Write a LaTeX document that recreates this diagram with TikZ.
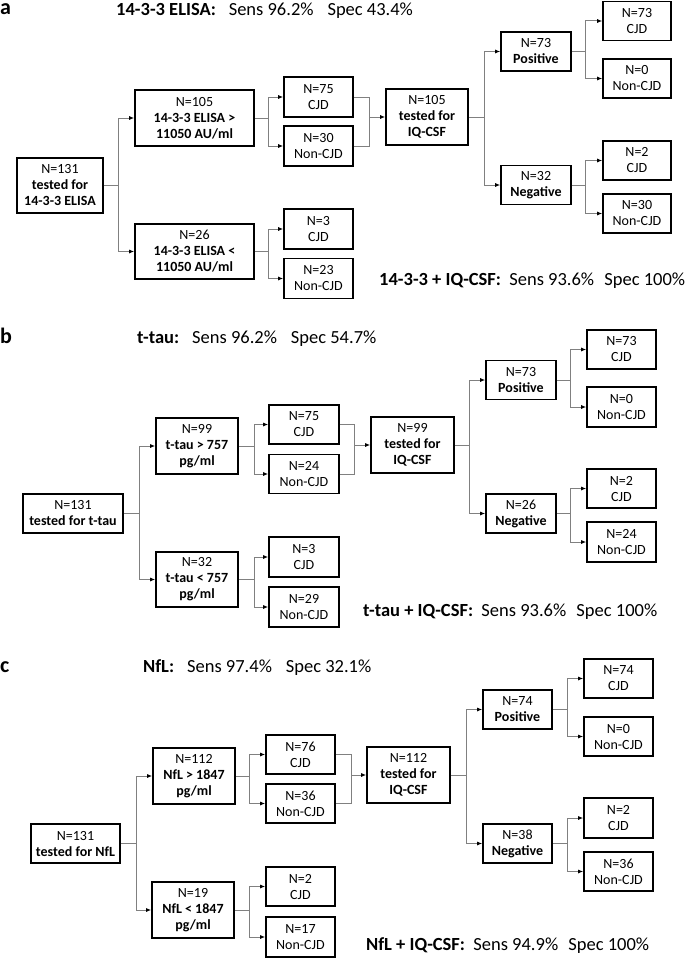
\documentclass[tikz,border=0pt]{standalone}
\usepackage{fontspec}
\setmainfont{Carlito}
\usetikzlibrary{arrows.meta}
\tikzset{
 box/.style={draw=black, line width=1.6pt, inner sep=0pt, align=center, font=\fontsize{14}{16}\selectfont},
 conn/.style={draw=black!50, line width=1pt},
 arr/.style={conn, -{Latex[length=5pt,width=4pt,color=black]}},
 head/.style={anchor=base west, inner sep=0pt, font=\fontsize{18.5}{20}\selectfont},
 plab/.style={anchor=base west, inner sep=0pt, font=\fontsize{22}{24}\selectfont\bfseries},
}
\newcommand{\bx}[5]{\node[box,minimum width=#3,minimum height=#4] (#1) at (#2) {#5};}
\newcommand{\splitto}[5]{%
 \coordinate (#3) at (#2,0);
 \draw[conn] (#1.east) -- (#3 |- #1.east);
 \draw[arr] (#3 |- #1.east) |- (#4.west);
 \draw[arr] (#3 |- #1.east) |- (#5.west);}
\newcommand{\mergeto}[5]{%
 \coordinate (#4) at (#3,0);
 \draw[conn] (#1.east) -| (#4 |- #5.west);
 \draw[conn] (#2.east) -| (#4 |- #5.west);
 \draw[arr] (#4 |- #5.west) -- (#5.west);}
\begin{document}
\begin{tikzpicture}[x=1pt,y=-1pt]
\useasboundingbox[fill=white] (0,0) rectangle (685,958);
% ---------------- panel a
\node[plab] (la) at (0,15) {a};
\node[head] (ha) at (116,16) {\textbf{14-3-3 ELISA:}\hspace{0.7em}Sens 96.2\%\hspace{0.75em}Spec 43.4\%};
\node[head] (fa) at (379,285) {\textbf{14-3-3 + IQ-CSF:}\hspace{0.45em}Sens 93.6\%\hspace{0.55em}Spec 100\%};
\bx{a131}{60,185.5}{86pt}{55pt}{N=131\\\textbf{tested for}\\\textbf{14-3-3 ELISA}}
\bx{a105}{194.5,118}{119pt}{56pt}{N=105\\\textbf{14-3-3 ELISA >}\\\textbf{11050 AU/ml}}
\bx{a26}{194.5,251.5}{119pt}{55pt}{N=26\\\textbf{14-3-3 ELISA <}\\\textbf{11050 AU/ml}}
\bx{aC1}{318.5,97}{69pt}{40pt}{N=75\\CJD}
\bx{aN1}{318.5,146}{69pt}{40pt}{N=30\\Non-CJD}
\bx{aC2}{318.5,229}{69pt}{40pt}{N=3\\CJD}
\bx{aN2}{318.5,278.5}{69pt}{40pt}{N=23\\Non-CJD}
\bx{aIQ}{427,117}{82pt}{56pt}{N=105\\\textbf{tested for}\\\textbf{IQ-CSF}}
\bx{aPos}{536,51.5}{70pt}{39pt}{N=73\\\textbf{Positive}}
\bx{aNeg}{536,185}{70pt}{39pt}{N=32\\\textbf{Negative}}
\bx{aPC}{637,21}{68pt}{39pt}{N=73\\CJD}
\bx{aPN}{637,78.5}{68pt}{39pt}{N=0\\Non-CJD}
\bx{aNC}{637,160.5}{68pt}{39pt}{N=2\\CJD}
\bx{aNN}{637,213.5}{68pt}{39pt}{N=30\\Non-CJD}
\splitto{a131}{118}{ja1}{a105}{a26}
\splitto{a105}{268}{ja2}{aC1}{aN1}
\splitto{a26}{268}{ja3}{aC2}{aN2}
\mergeto{aC1}{aN1}{369}{jam}{aIQ}
\splitto{aIQ}{484}{ja4}{aPos}{aNeg}
\splitto{aPos}{585}{ja5}{aPC}{aPN}
\splitto{aNeg}{585}{ja6}{aNC}{aNN}
% ---------------- panel b
\node[plab] (lb) at (0,343) {b};
\node[head] (hb) at (137,343) {\textbf{t-tau:}\hspace{0.7em}Sens 96.2\%\hspace{0.75em}Spec 54.7\%};
\node[head] (fb) at (363,616) {\textbf{t-tau + IQ-CSF:}\hspace{0.45em}Sens 93.6\%\hspace{0.55em}Spec 100\%};
\bx{b131}{73,513.5}{100pt}{39pt}{N=131\\\textbf{tested for t-tau}}
\bx{b99}{197,446}{82pt}{56pt}{N=99\\\textbf{t-tau > 757}\\\textbf{pg/ml}}
\bx{b32}{197,579.5}{82pt}{55pt}{N=32\\\textbf{t-tau < 757}\\\textbf{pg/ml}}
\bx{bC1}{304,424.5}{70pt}{39pt}{N=75\\CJD}
\bx{bN1}{304,474}{70pt}{39pt}{N=24\\Non-CJD}
\bx{bC2}{304,557}{70pt}{40pt}{N=3\\CJD}
\bx{bN2}{304,607}{70pt}{40pt}{N=29\\Non-CJD}
\bx{bIQ}{412.5,445}{83pt}{56pt}{N=99\\\textbf{tested for}\\\textbf{IQ-CSF}}
\bx{bPos}{521,380}{70pt}{39pt}{N=73\\\textbf{Positive}}
\bx{bNeg}{521,513.5}{70pt}{39pt}{N=26\\\textbf{Negative}}
\bx{bPC}{621.5,349.5}{69pt}{39pt}{N=73\\CJD}
\bx{bPN}{621.5,407}{69pt}{40pt}{N=0\\Non-CJD}
\bx{bNC}{621.5,488.5}{69pt}{39pt}{N=2\\CJD}
\bx{bNN}{621.5,542}{69pt}{40pt}{N=24\\Non-CJD}
\splitto{b131}{139}{jb1}{b99}{b32}
\splitto{b99}{254}{jb2}{bC1}{bN1}
\splitto{b32}{254}{jb3}{bC2}{bN2}
\mergeto{bC1}{bN1}{354}{jbm}{bIQ}
\splitto{bIQ}{469}{jb4}{bPos}{bNeg}
\splitto{bPos}{570}{jb5}{bPC}{bPN}
\splitto{bNeg}{570}{jb6}{bNC}{bNN}
% ---------------- panel c
\node[plab] (lc) at (0,672) {c};
\node[head] (hc) at (143,672) {\textbf{NfL:}\hspace{0.7em}Sens 97.4\%\hspace{0.75em}Spec 32.1\%};
\node[head] (fc) at (366,950) {\textbf{NfL + IQ-CSF:}\hspace{0.45em}Sens 94.9\%\hspace{0.55em}Spec 100\%};
\bx{c131}{75.5,843.5}{89pt}{39pt}{N=131\\\textbf{tested for NfL}}
\bx{c112}{194,776}{82pt}{56pt}{N=112\\\textbf{NfL > 1847}\\\textbf{pg/ml}}
\bx{c19}{193,910}{82pt}{56pt}{N=19\\\textbf{NfL < 1847}\\\textbf{pg/ml}}
\bx{cC1}{300.5,754.5}{69pt}{39pt}{N=76\\CJD}
\bx{cN1}{300.5,803.5}{69pt}{39pt}{N=36\\Non-CJD}
\bx{cC2}{300.5,886.5}{69pt}{39pt}{N=2\\CJD}
\bx{cN2}{300.5,937}{69pt}{40pt}{N=17\\Non-CJD}
\bx{cIQ}{408.5,775}{83pt}{56pt}{N=112\\\textbf{tested for}\\\textbf{IQ-CSF}}
\bx{cPos}{517.5,709.5}{69pt}{39pt}{N=74\\\textbf{Positive}}
\bx{cNeg}{517.5,843.5}{69pt}{39pt}{N=38\\\textbf{Negative}}
\bx{cPC}{618.5,678.5}{69pt}{39pt}{N=74\\CJD}
\bx{cPN}{618.5,736.5}{69pt}{39pt}{N=0\\Non-CJD}
\bx{cNC}{618.5,818}{69pt}{40pt}{N=2\\CJD}
\bx{cNN}{618.5,871.5}{69pt}{39pt}{N=36\\Non-CJD}
\splitto{c131}{136}{jc1}{c112}{c19}
\splitto{c112}{249}{jc2}{cC1}{cN1}
\splitto{c19}{249}{jc3}{cC2}{cN2}
\mergeto{cC1}{cN1}{351}{jcm}{cIQ}
\splitto{cIQ}{466}{jc4}{cPos}{cNeg}
\splitto{cPos}{567}{jc5}{cPC}{cPN}
\splitto{cNeg}{567}{jc6}{cNC}{cNN}
\end{tikzpicture}
\end{document}
